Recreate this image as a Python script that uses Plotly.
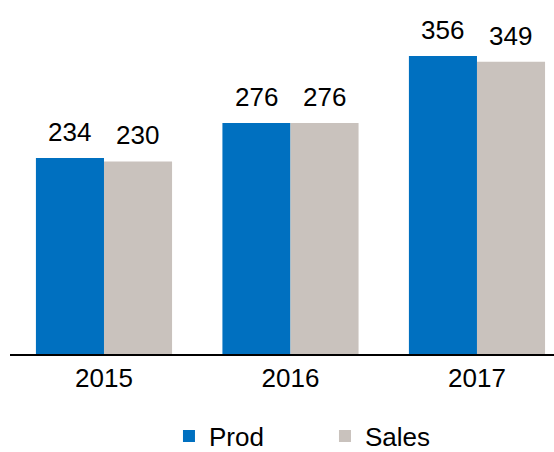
import plotly.graph_objects as go

years = ["2015", "2016", "2017"]
prod = [234, 276, 356]
sales = [230, 276, 349]

BLUE = "#0070C0"
GREY = "#C9C2BD"
FONT = "Liberation Sans, Arial, sans-serif"

fig = go.Figure()
fig.add_trace(go.Bar(name="Prod", x=years, y=prod, marker_color=BLUE, marker_line_width=0))
fig.add_trace(go.Bar(name="Sales", x=years, y=sales, marker_color=GREY, marker_line_width=0))

annotations = []
for i, yr in enumerate(years):
    for vals, shift in ((prod, -34), (sales, 34)):
        annotations.append(dict(
            x=i, y=vals[i], xref="x", yref="y", text=str(vals[i]),
            showarrow=False, xshift=shift, yshift=9, yanchor="bottom",
            font=dict(size=26, color="black", family=FONT)))

fig.update_layout(
    width=554, height=452,
    margin=dict(l=10, r=0, t=0, b=98, autoexpand=False),
    paper_bgcolor="white", plot_bgcolor="white",
    barmode="group", bargap=0.27, bargroupgap=0,
    font=dict(family=FONT, size=26, color="black"),
    annotations=annotations,
    showlegend=True,
    legend=dict(orientation="h", x=0.579, xanchor="center", y=-0.2316, yanchor="middle",
                font=dict(size=26, family=FONT), entrywidth=111, itemwidth=30),
    xaxis=dict(type="category", range=[-0.504, 2.413], showline=True, linecolor="black",
               linewidth=2, ticks="", showgrid=False, tickfont=dict(size=26)),
    yaxis=dict(range=[0, 422.8], showticklabels=False, showline=False, ticks="",
               showgrid=False, zeroline=False),
)

fig.write_html("out.html", config={"displayModeBar": False},
               post_script="document.body.style.margin='0';document.body.style.overflow='hidden';")
